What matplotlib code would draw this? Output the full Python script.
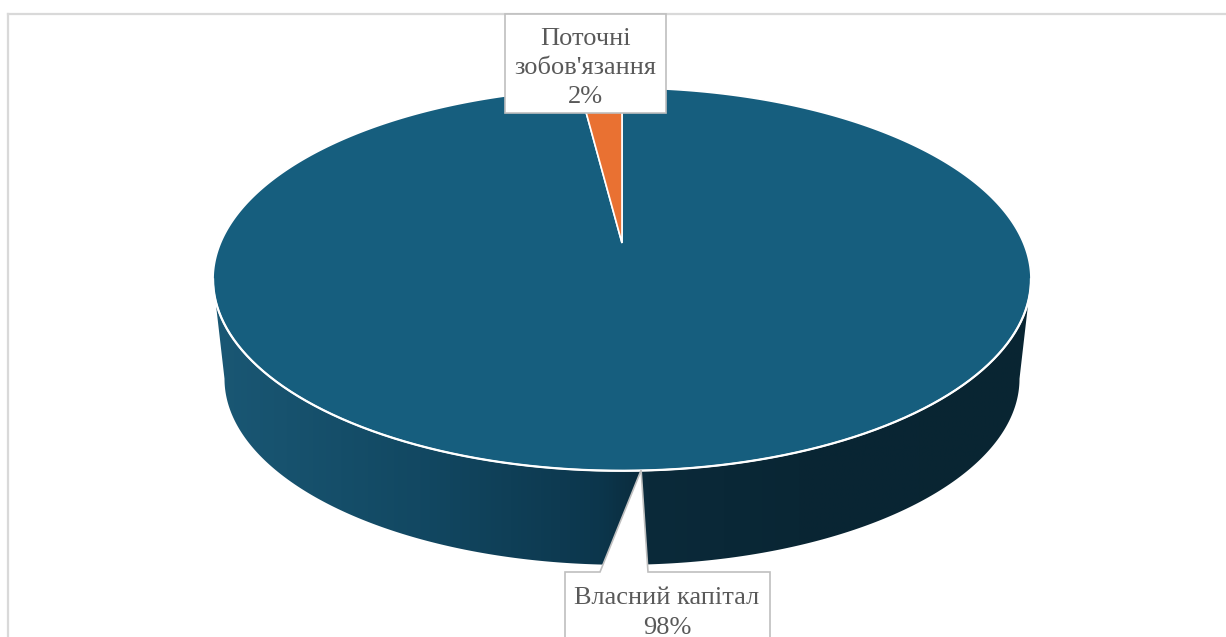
import numpy as np
import matplotlib.pyplot as plt
from matplotlib.patches import Polygon
from matplotlib.colors import LinearSegmentedColormap

plt.rcParams['font.family'] = ['Liberation Serif', 'DejaVu Serif']

# structure of the capital, %
categories = ['Власний капітал', "Поточні\nзобов'язання"]
shares = [98, 2]
slice_colors = ['#165e7e', '#e97132']

W, H = 1226, 637

# 3-D pie geometry in pixel units
cx, cy = 622, 243          # centre of the top face
rx, ry = 401.5, 184.5
persp = 0.19               # perspective strength
s_bot = 0.972              # bottom face is a little smaller
cy_bot = 343.4


def project(theta, x0, y0, a, b):
    """ Point on the rim of a disc seen in perspective.
    theta = pi/2 is the far side, -pi/2 the near side.
    """
    u, w = np.cos(theta), np.sin(theta)
    d = 1 + persp*w
    return x0 + a*u/d, y0 - b*w/d


fig = plt.figure(figsize=(W/100, H/100), dpi=100)
ax = fig.add_axes([0, 0, 1, 1])
ax.axis('off')

# chart frame
ax.plot([8, 8], [14, H], color='#d9d9d9', lw=1.6, zorder=1)
ax.plot([8, W], [14, 14], color='#d9d9d9', lw=1.6, zorder=1)

# side wall, front half between the two silhouette points
tl = np.pi + np.arcsin(persp)
tr = 2*np.pi - np.arcsin(persp)
t = np.linspace(tl, tr, 300)
xt, yt = project(t, cx, cy, rx, ry)
xb, yb = project(t[::-1], cx, cy_bot, rx*s_bot, ry*s_bot)
wall = Polygon(np.column_stack([np.r_[xt, xb], np.r_[yt, yb]]),
               closed=True, facecolor='none', edgecolor='none', zorder=2)
ax.add_patch(wall)

# horizontal shading of the wall: lighter on the left, dark on the right
xs = [205, 420, 600, 650, 800, 1040]
cols = [(26, 88, 117), (18, 72, 98), (12, 54, 76), (11, 42, 58), (9, 38, 52), (9, 37, 50)]
pos = [(x - xs[0])/(xs[-1] - xs[0]) for x in xs]
cmap = LinearSegmentedColormap.from_list(
    'wall', list(zip(pos, [tuple(c/255 for c in col) for col in cols])))
grad = np.linspace(0, 1, 512)[None, :]
im = ax.imshow(grad, extent=(xs[0], xs[-1], 580, 270), aspect='auto',
               cmap=cmap, interpolation='bilinear', zorder=2)
im.set_clip_path(wall)

# top face: slices go clockwise from 12 o'clock
start = np.pi/2
for val, col in zip(shares, slice_colors):
    span = val/sum(shares)*2*np.pi
    th = np.linspace(start, start - span, max(int(val*8), 10))
    ex, ey = project(th, cx, cy, rx, ry)
    pts = np.column_stack([np.r_[cx, ex], np.r_[cy, ey]])
    ax.add_patch(Polygon(pts, closed=True, facecolor=col, edgecolor='white',
                         lw=1.2, joinstyle='miter', zorder=3))
    start -= span

# white rim on the front of the top face
ax.plot(xt, yt, color='white', lw=1.6, zorder=4)

# labels
lab_col = '#595959'
box_col = '#bfbfbf'

# "Поточні зобов'язання"
ax.add_patch(Polygon([(505, 14), (666, 14), (666, 113), (505, 113)], closed=True,
                     facecolor='white', edgecolor=box_col, lw=1.2, zorder=5))
ax.text(585.5, 68, categories[1] + '\n' + f'{shares[1]}%', ha='center', va='center',
        fontsize=19, color=lab_col, linespacing=1.42, zorder=6)

# "Власний капітал" callout pointing to the middle of its slice
mid = np.pi/2 - shares[0]/sum(shares)*np.pi
tipx, tipy = project(mid, cx, cy, rx, ry)
tipx -= 12
ax.add_patch(Polygon([(565, H + 5), (565, 572), (600, 572), (tipx, tipy),
                      (648, 572), (770, 572), (770, H + 5)], closed=True,
                     facecolor='white', edgecolor=box_col, lw=1.2, zorder=5))
ax.text(667, 613, categories[0] + '\n' + f'{shares[0]}%', ha='center', va='center',
        fontsize=19, color=lab_col, linespacing=1.42, zorder=6)

ax.set_xlim(0, W)
ax.set_ylim(H, 0)
fig.savefig('out.png', dpi=100, facecolor='white')
